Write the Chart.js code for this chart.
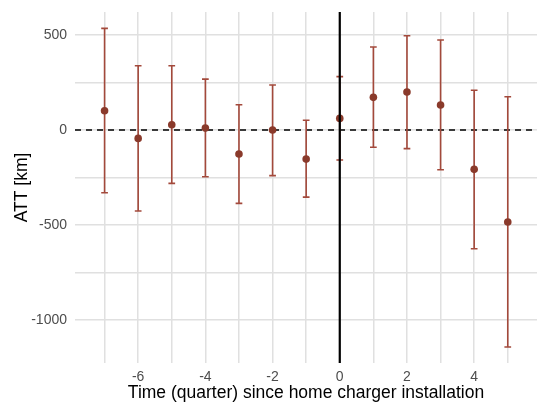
<!DOCTYPE html>
<html lang="en">
<head>
  <meta charset="utf-8" />
  <title>ATT event study</title>
  <script src="https://cdn.jsdelivr.net/npm/chart.js@4.4.1/dist/chart.umd.min.js"></script>
  <style>
    html, body { margin: 0; padding: 0; background: #fff; }
    #wrap { width: 537px; height: 404px; }
  </style>
</head>
<body>
  <div id="wrap"><canvas id="myChart" width="537" height="404"></canvas></div>
  <script>
    // quarters relative to home charger installation
    const quarters = [-7, -6, -5, -4, -3, -2, -1, 0, 1, 2, 3, 4, 5];
    // point estimates and 95% CI (km)
    const att = [101, -44, 28, 10, -126, 0, -153, 61, 172, 200, 132, -207, -484];
    const ciLow = [-330, -426, -281, -246, -386, -240, -353, -158, -91, -98, -209, -625, -1142];
    const ciHigh = [535, 338, 338, 268, 133, 237, 51, 281, 437, 496, 474, 209, 175];

    // grid / tick positions
    const xGrid = [-7, -6, -5, -4, -3, -2, -1, 0, 1, 2, 3, 4, 5];
    const xLabels = [-6, -4, -2, 0, 2, 4];
    const yGrid = [-1000, -750, -500, -250, 0, 250, 500];
    const yLabels = [-1000, -500, 0, 500];

    const FONT = "'Liberation Sans', Arial, sans-serif";
    const barColor = '#a3493b';
    const pointColor = '#8a3a2b';

    // no extra label padding around the plot panel
    function noPad(scale) {
      scale.paddingTop = 0;
      scale.paddingBottom = 0;
      scale.paddingLeft = 0;
      scale.paddingRight = 0;
    }

    const refLines = {
      id: 'refLines',
      beforeDatasetsDraw(chart) {
        const { ctx, chartArea, scales: { x, y } } = chart;
        ctx.save();
        // dashed zero line
        ctx.strokeStyle = '#000';
        ctx.lineWidth = 1.5;
        ctx.setLineDash([6, 5]);
        const y0 = y.getPixelForValue(0);
        ctx.beginPath();
        ctx.moveTo(chartArea.left, y0);
        ctx.lineTo(chartArea.right, y0);
        ctx.stroke();
        ctx.setLineDash([]);
        // error bars
        ctx.strokeStyle = barColor;
        ctx.lineWidth = 1.6;
        const half = (x.getPixelForValue(0.1) - x.getPixelForValue(0));
        quarters.forEach((q, i) => {
          const px = x.getPixelForValue(q);
          const lo = y.getPixelForValue(ciLow[i]);
          const hi = y.getPixelForValue(ciHigh[i]);
          ctx.beginPath();
          ctx.moveTo(px, lo); ctx.lineTo(px, hi);
          ctx.moveTo(px - half, lo); ctx.lineTo(px + half, lo);
          ctx.moveTo(px - half, hi); ctx.lineTo(px + half, hi);
          ctx.stroke();
        });
        ctx.restore();
      },
      afterDatasetsDraw(chart) {
        const { ctx, chartArea, scales: { x } } = chart;
        const x0 = x.getPixelForValue(0);
        ctx.save();
        ctx.strokeStyle = '#000';
        ctx.lineWidth = 2.2;
        ctx.beginPath();
        ctx.moveTo(x0, chartArea.top);
        ctx.lineTo(x0, chartArea.bottom);
        ctx.stroke();
        ctx.restore();
      }
    };

    const ctx = document.getElementById('myChart').getContext('2d');
    const myChart = new Chart(ctx, {
      type: 'scatter',
      data: {
        datasets: [{
          label: 'ATT',
          data: quarters.map((q, i) => ({ x: q, y: att[i] })),
          backgroundColor: pointColor,
          borderColor: pointColor,
          pointRadius: 3.8,
          borderWidth: 0,
        }]
      },
      options: {
        responsive: false,
        animation: false,
        layout: { autoPadding: false, padding: { top: 12, right: 0, left: 0, bottom: 0 } },
        plugins: { legend: { display: false }, tooltip: { enabled: false } },
        scales: {
          x: {
            type: 'linear',
            min: -7.88,
            max: 5.87,
            afterBuildTicks: (scale) => { scale.ticks = xGrid.map(v => ({ value: v })); },
            afterFit: (scale) => { scale.height = 41; noPad(scale); },
            border: { display: false },
            grid: { color: '#e0e0e0', lineWidth: 1.5, drawTicks: false },
            ticks: {
              autoSkip: false,
              maxRotation: 0,
              padding: 6,
              color: '#4d4d4d',
              font: { family: FONT, size: 14 },
              callback: (v) => xLabels.includes(v) ? String(v) : ''
            },
            title: {
              display: true,
              text: 'Time (quarter) since home charger installation',
              color: '#000',
              font: { family: FONT, size: 17.5 },
              padding: 0
            }
          },
          y: {
            type: 'linear',
            min: -1226,
            max: 621,
            afterBuildTicks: (scale) => { scale.ticks = yGrid.map(v => ({ value: v })); },
            afterFit: (scale) => { scale.width = 75; noPad(scale); },
            border: { display: false },
            grid: { color: '#e0e0e0', lineWidth: 1.5, drawTicks: false },
            ticks: {
              autoSkip: false,
              padding: 8,
              color: '#4d4d4d',
              font: { family: FONT, size: 14 },
              callback: (v) => yLabels.includes(v) ? String(v) : ''
            },
            title: {
              display: true,
              text: 'ATT [km]',
              color: '#000',
              font: { family: FONT, size: 17.5 },
              padding: { top: 12, bottom: 0 }
            }
          }
        }
      },
      plugins: [refLines]
    });
  </script>
</body>
</html>
